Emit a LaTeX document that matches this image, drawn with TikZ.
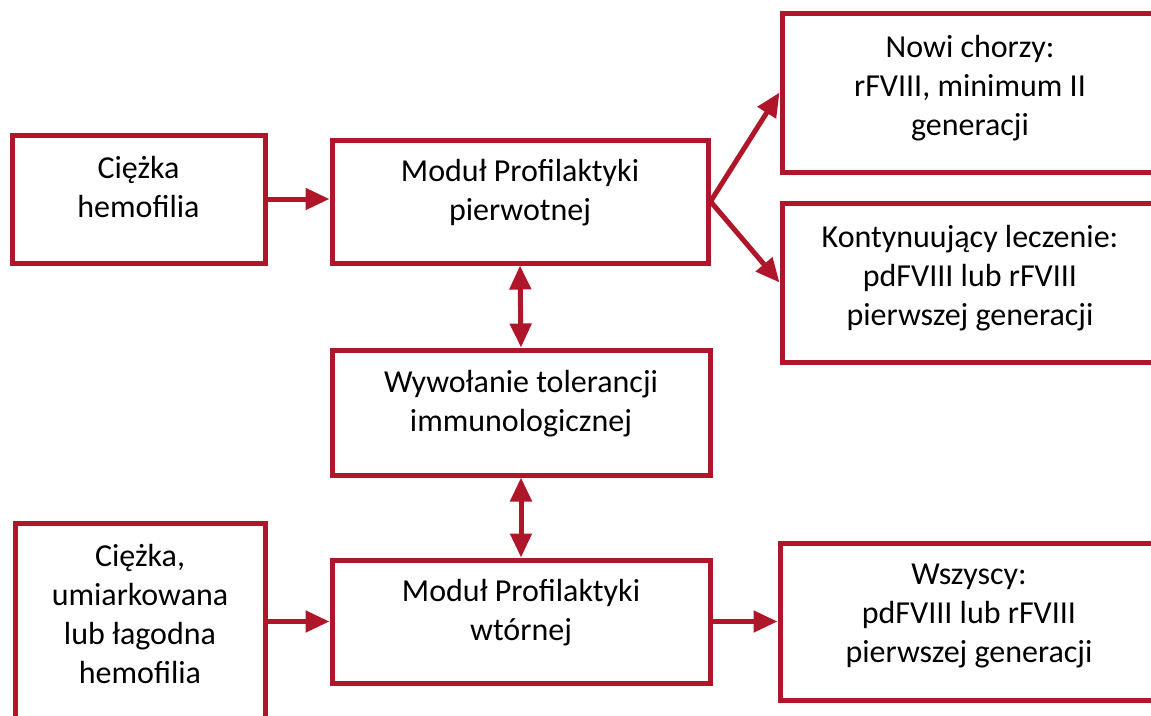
\documentclass[tikz,border=0pt]{standalone}
\usepackage{fontspec}
\setmainfont{Carlito}
\usetikzlibrary{arrows.meta}
\definecolor{hemored}{RGB}{176,22,42}

\begin{document}
\begin{tikzpicture}[x=1pt,y=-1pt,
    box/.style={draw=hemored,line width=5pt,fill=white,align=center,
      font=\fontsize{32}{39}\selectfont,inner sep=0pt,text depth=24pt},
    link/.style={draw=hemored,line width=5pt,
      -{Triangle[length=24pt,width=21pt]}},
    twolink/.style={link,{Triangle[length=24pt,width=21pt]}-{Triangle[length=24pt,width=21pt]}}]
    \useasboundingbox (0,0) rectangle (1151,715);
    \clip (0,0) rectangle (1151,715);
    % left column
    \node[box,minimum width=253pt,minimum height=128pt] (hemo) at (138.5,199) {Ciężka\\hemofilia};
    \node[box,minimum width=250pt,minimum height=220pt] (mild) at (140,633) {};
    \node[align=center,font=\fontsize{32}{39}\selectfont] (mildtext) at (140,614)
      {Ciężka,\\umiarkowana\\lub łagodna\\hemofilia};
    % middle column
    \node[box,minimum width=376pt,minimum height=123pt] (prim) at (520,201.5) {Moduł Profilaktyki\\pierwotnej};
    \node[box,minimum width=378pt,minimum height=125pt] (tol) at (521,412.5) {Wywołanie tolerancji\\immunologicznej};
    \node[box,minimum width=378pt,minimum height=123pt] (sec) at (521,621.5) {Moduł Profilaktyki\\wtórnej};
    % right column
    \node[box,text depth=14pt,minimum width=376pt,minimum height=159pt] (new) at (970,92.5) {Nowi chorzy:\\rFVIII, minimum II\\generacji};
    \node[box,text depth=14pt,minimum width=376pt,minimum height=159pt] (cont) at (970,282.5) {Kontynuujący leczenie:\\pdFVIII lub rFVIII\\pierwszej generacji};
    \node[box,text depth=16pt,minimum width=378pt,minimum height=157pt] (all) at (969,621.5) {Wszyscy:\\pdFVIII lub rFVIII\\pierwszej generacji};
    % connectors
    \draw[link] (hemo.east) -- (hemo.east -| prim.west);
    \draw[link] (prim.east) -- (new.west);
    \draw[link] (prim.east) -- (cont.west);
    \draw[twolink] (prim.south) -- (tol.north);
    \draw[twolink] (tol.south) -- (sec.north);
    \draw[link] (mild.east |- sec.west) -- (sec.west);
    \draw[link] (sec.east) -- (all.west);
\end{tikzpicture}
\end{document}
